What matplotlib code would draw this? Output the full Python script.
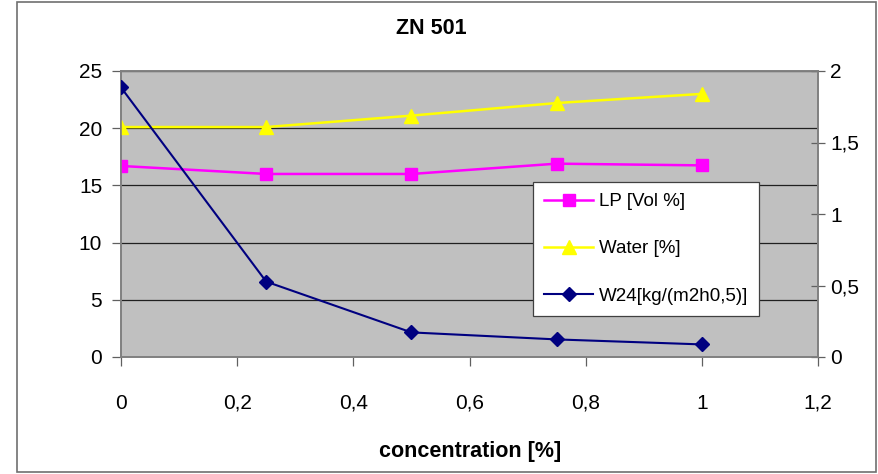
import matplotlib
matplotlib.use("Agg")
import matplotlib.pyplot as plt
from matplotlib.patches import Rectangle
from matplotlib.ticker import FuncFormatter, MultipleLocator

plt.rcParams['font.family'] = ['Liberation Sans', 'DejaVu Sans']

concentration = [0, 0.25, 0.5, 0.75, 1]
lp_vol = [16.7, 16.0, 16.0, 16.9, 16.75]
water = [20.1, 20.1, 21.1, 22.2, 23.0]
w24 = [1.885, 0.527, 0.172, 0.123, 0.088]

labels = ['LP [Vol %]', 'Water [%]', 'W24[kg/(m2h0,5)]']


def comma(v, pos):
    return '{:g}'.format(round(v, 3)).replace('.', ',')


fig = plt.figure(figsize=(8.79, 4.74), dpi=100)
ax = fig.add_axes([121 / 879, 1 - 357 / 474, 697 / 879, 286 / 474])
ax.set_facecolor('#c0c0c0')

# outer chart frame
fig.patches.append(Rectangle((17 / 879, 2 / 474), 859 / 879, 470 / 474,
                             transform=fig.transFigure, fill=False,
                             edgecolor='#707070', linewidth=1.2))

l1, = ax.plot(concentration, lp_vol, color='#ff00ff', lw=1.8,
              marker='s', ms=9, zorder=3)
l2, = ax.plot(concentration, water, color='#ffff00', lw=1.8,
              marker='^', ms=10, zorder=3)

ax.set_xlim(0, 1.2)
ax.set_ylim(0, 25)
ax.xaxis.set_major_locator(MultipleLocator(0.2))
ax.yaxis.set_major_locator(MultipleLocator(5))
ax.xaxis.set_major_formatter(FuncFormatter(comma))
ax.yaxis.set_major_formatter(FuncFormatter(comma))
ax.grid(axis='y', color='#202020', lw=0.9)
ax.set_axisbelow(True)
ax.tick_params(axis='y', direction='out', length=6.5, width=0.9,
               color='#606060', labelsize=15, pad=7)
ax.tick_params(axis='x', direction='out', length=6.5, width=0.9,
               color='#606060', labelsize=15, pad=20)
for s in ax.spines.values():
    s.set_color('#808080')
    s.set_linewidth(1.2)

# W24 goes on the secondary scale
ax2 = ax.twinx()
l3, = ax2.plot(concentration, w24, color='#000080', lw=1.5,
               marker='D', ms=7.5, zorder=3)
ax2.set_ylim(0, 2)
ax2.yaxis.set_major_locator(MultipleLocator(0.5))
ax2.yaxis.set_major_formatter(FuncFormatter(comma))
ax2.tick_params(axis='y', direction='inout', length=10, width=0.9,
                color='#606060', labelsize=15, pad=4)
for s in ax2.spines.values():
    s.set_color('#808080')
    s.set_linewidth(1.2)

leg = ax2.legend([l1, l2, l3], labels, loc='upper left',
                 bbox_to_anchor=(0.591, 0.612), borderaxespad=0,
                 fontsize=13.5, frameon=True, fancybox=False, framealpha=1,
                 edgecolor='#404040', handlelength=2.6,
                 labelspacing=1.6, borderpad=0.6, handletextpad=0.3)
leg.get_frame().set_linewidth(0.9)

fig.text(431 / 879, 1 - 29 / 474, 'ZN 501', ha='center', va='center',
         fontsize=15.5, fontweight='bold')
fig.text(470 / 879, 1 - 451 / 474, 'concentration [%]', ha='center',
         va='center', fontsize=15.5, fontweight='bold')

fig.savefig('out.png', dpi=100)
